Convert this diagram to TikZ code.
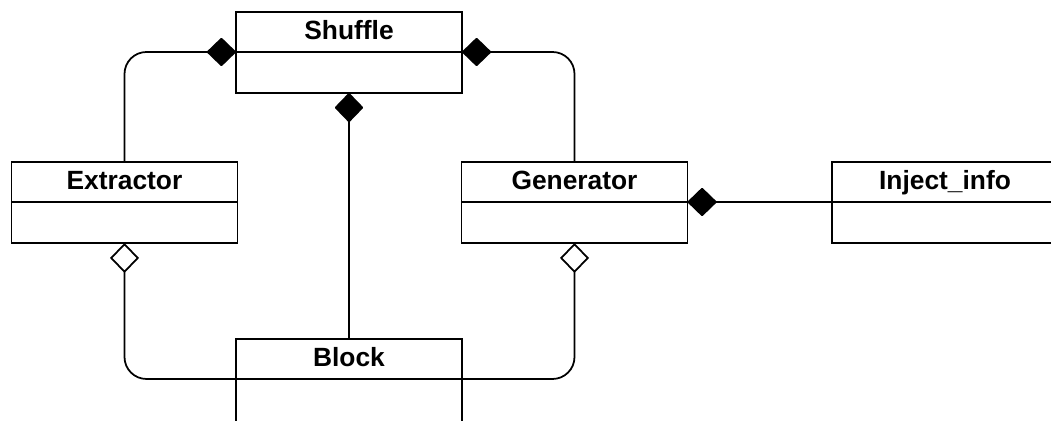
\documentclass[tikz,border=0pt]{standalone}
\usepackage{fontspec}
\setmainfont{Liberation Sans}
\usetikzlibrary{arrows.meta,positioning}

\tikzset{
  classtitle/.style={draw, line width=1pt, minimum width=4.52cm, minimum height=0.8cm,
    inner sep=0pt, outer sep=0pt, text height=11pt, text depth=3pt,
    font=\fontsize{15}{18}\selectfont\bfseries},
  classbody/.style={draw, line width=1pt, minimum width=4.52cm, minimum height=0.82cm,
    inner sep=0pt, outer sep=0pt},
  comp/.style={line width=1pt, rounded corners=0.44cm,
    -{Diamond[length=0.6cm, width=0.58cm, round]}},
  aggr/.style={line width=1pt, rounded corners=0.44cm,
    -{Diamond[open, length=0.6cm, width=0.58cm, fill=white]}},
}

\begin{document}
\begin{tikzpicture}[x=0.02cm, y=-0.02cm]
  \useasboundingbox (0,0) rectangle (1051,421);

  \node[classtitle] (shuffle) at (349,32) {Shuffle};
  \node[classbody, below=0pt of shuffle] (shufflebody) {};

  \node[classtitle] (extractor) at (124.5,182) {Extractor};
  \node[classbody, below=0pt of extractor] (extractorbody) {};

  \node[classtitle] (generator) at (574.5,182) {Generator};
  \node[classbody, below=0pt of generator] (generatorbody) {};

  \node[classtitle] (injectinfo) at (945,182) {Inject\_info};
  \node[classbody, below=0pt of injectinfo] (injectinfobody) {};

  \node[classtitle] (block) at (349,359) {Block};
  \node[classbody, below=0pt of block, minimum height=1cm] (blockbody) {};

  \draw[comp] (extractor.north) |- (shuffle.south west);
  \draw[comp] (generator.north) |- (shuffle.south east);
  \draw[comp] (block.north) -- (shufflebody.south);
  \draw[comp] (injectinfo.south west) -- (generator.south east);

  \draw[aggr] (block.south west) -| (extractorbody.south);
  \draw[aggr] (block.south east) -| (generatorbody.south);
\end{tikzpicture}
\end{document}
